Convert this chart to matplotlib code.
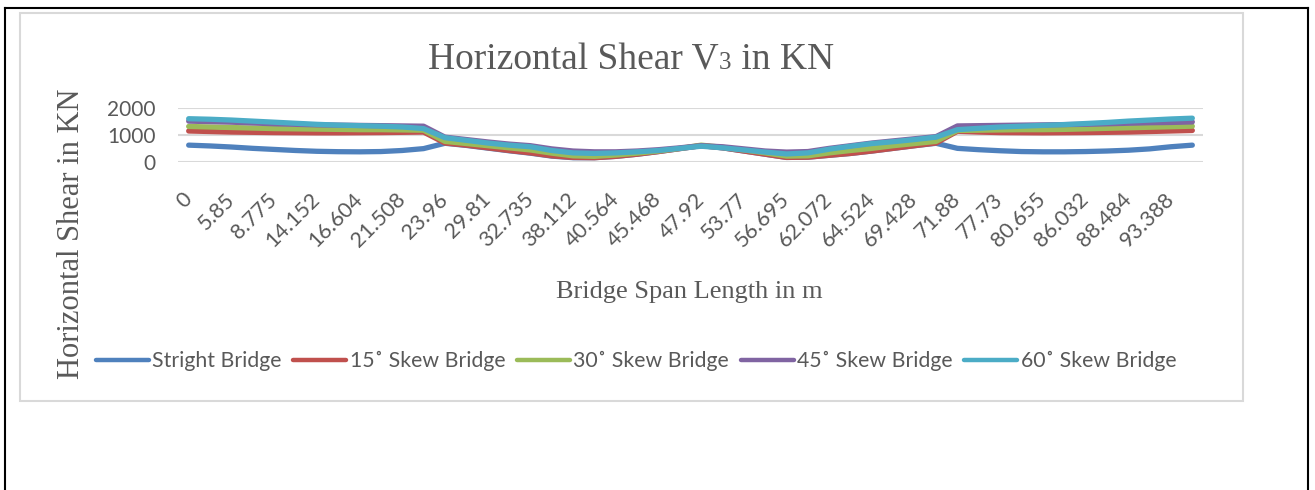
import matplotlib
matplotlib.use('Agg')
import matplotlib.pyplot as plt
import numpy as np
from matplotlib.lines import Line2D
from matplotlib.patches import Rectangle

# ---------------- data ----------------
tick_labels = ['0', '5.85', '8.775', '14.152', '16.604', '21.508', '23.96', '29.81',
               '32.735', '38.112', '40.564', '45.468', '47.92', '53.77', '56.695',
               '62.072', '64.524', '69.428', '71.88', '77.73', '80.655', '86.032',
               '88.484', '93.388']

straight = [620, 590, 550, 500, 460, 420, 390, 375, 370, 380, 420, 490,
            690, 610, 510, 410, 320, 210, 150, 150, 200, 280, 380, 490,
            600, 520, 400, 280, 160, 170, 240, 310, 400, 500, 600, 690,
            500, 450, 410, 380, 370, 370, 380, 400, 430, 480, 560, 620]
skew15 = [1150, 1130, 1110, 1100, 1090, 1085, 1080, 1080, 1085, 1090, 1100, 1110,
          700, 620, 520, 420, 330, 220, 160, 150, 200, 280, 380, 490,
          600, 520, 400, 280, 160, 170, 240, 310, 400, 500, 600, 700,
          1140, 1110, 1090, 1085, 1080, 1085, 1090, 1100, 1110, 1130, 1150, 1170]
skew30 = [1320, 1300, 1280, 1260, 1240, 1230, 1220, 1210, 1200, 1200, 1190, 1180,
          760, 680, 600, 520, 440, 320, 220, 200, 250, 320, 400, 500,
          620, 540, 440, 330, 210, 220, 330, 420, 500, 600, 680, 760,
          1170, 1180, 1190, 1200, 1200, 1210, 1230, 1250, 1270, 1290, 1310, 1330]
skew45 = [1520, 1500, 1480, 1450, 1420, 1400, 1380, 1370, 1360, 1350, 1340, 1330,
          920, 830, 740, 660, 600, 480, 400, 370, 370, 400, 450, 520,
          600, 560, 480, 400, 360, 380, 500, 600, 700, 780, 860, 940,
          1340, 1350, 1360, 1370, 1380, 1390, 1400, 1420, 1440, 1460, 1470, 1490]
skew60 = [1610, 1590, 1560, 1520, 1480, 1440, 1400, 1370, 1350, 1330, 1300, 1240,
          900, 800, 700, 620, 560, 420, 330, 310, 330, 370, 420, 500,
          580, 520, 440, 360, 290, 330, 470, 580, 680, 750, 830, 920,
          1200, 1250, 1300, 1330, 1360, 1390, 1430, 1470, 1520, 1560, 1600, 1630]

series_names = ['Stright Bridge', '15\u02da Skew Bridge', '30\u02da Skew Bridge',
                '45\u02da Skew Bridge', '60\u02da Skew Bridge']
series_colors = ['#4F81BD', '#C0504D', '#9BBB59', '#8064A2', '#4BACC6']

# ---------------- figure ----------------
W, H = 1315, 490
fig = plt.figure(figsize=(W / 100, H / 100), dpi=100)


def fx(px):
    return px / W


def fy(py):
    return 1 - py / H


SANS = ['Lato', 'DejaVu Sans']
SERIF = ['Liberation Serif', 'DejaVu Serif']
GRAY = '#595959'

# outer black border (table cell)
for (x0, y0, x1, y1) in [(5, 8, 1308, 8), (5, 8, 5, 490), (1308, 8, 1308, 490)]:
    fig.add_artist(Line2D([fx(x0), fx(x1)], [fy(y0), fy(y1)], color='black',
                          lw=1.5, transform=fig.transFigure))

# chart area border
fig.add_artist(Rectangle((fx(20), fy(401)), fx(1243) - fx(20), fy(13) - fy(401),
                         fill=False, edgecolor='#D9D9D9', lw=1.5,
                         transform=fig.transFigure))

ax = fig.add_axes([fx(178), fy(161.7), fx(1203) - fx(178), fy(108.3) - fy(161.7)])
x = np.arange(len(straight))
for vals, name, col in zip([straight, skew15, skew30, skew45, skew60],
                           series_names, series_colors):
    ax.plot(x, vals, color=col, lw=3.8, solid_capstyle='round',
            solid_joinstyle='round', label=name, clip_on=False)

for s in ax.spines.values():
    s.set_visible(False)
ax.set_ylim(0, 2000)
ax.set_yticks([0, 1000, 2000])
ax.set_yticklabels(['0', '1000', '2000'], fontsize=15, color=GRAY, family=SANS)
ax.yaxis.grid(True, color='#D9D9D9', lw=1.5)
ax.set_axisbelow(True)
ax.set_xlim(-0.5, len(x) - 0.5)
ax.set_xticks(x[::2])
ax.set_xticklabels(tick_labels, rotation=45, ha='right', va='center',
                   rotation_mode='anchor', fontsize=15.5, color=GRAY, family=SANS)
ax.tick_params(axis='both', length=0)
ax.tick_params(axis='y', pad=16)
ax.tick_params(axis='x', pad=25)

# title with small "3"
renderer = fig.canvas.get_renderer()
parts = [('Horizontal Shear V', 27), ('3', 18), (' in KN', 27)]
tmp = []
total = 0
for s, fs in parts:
    t = fig.text(0, 0, s, fontsize=fs, family=SERIF, color=GRAY)
    w = t.get_window_extent(renderer).width
    tmp.append((t, w))
    total += w
cx = 631
start = cx - total / 2
ybase = 69
for t, w in tmp:
    t.set_position((fx(start), fy(ybase)))
    t.set_va('baseline')
    start += w

# axis titles
fig.text(fx(689), fy(292), 'Bridge Span Length in m', fontsize=19, family=SERIF,
         color=GRAY, ha='center', va='center')
fig.text(fx(72), fy(234), 'Horizontal Shear in KN', fontsize=22, family=SERIF,
         color=GRAY, ha='center', va='center', rotation=90)

# legend
leg = fig.legend(loc='center', bbox_to_anchor=(fx(636), fy(361)), ncol=5,
                 frameon=False, prop={'family': SANS, 'size': 15.3},
                 handlelength=2.5, handletextpad=0.15, columnspacing=0.55,
                 borderaxespad=0)
for txt in leg.get_texts():
    txt.set_color(GRAY)
for ln in leg.get_lines():
    ln.set_linewidth(3.2)

fig.savefig('out.png', dpi=100)
